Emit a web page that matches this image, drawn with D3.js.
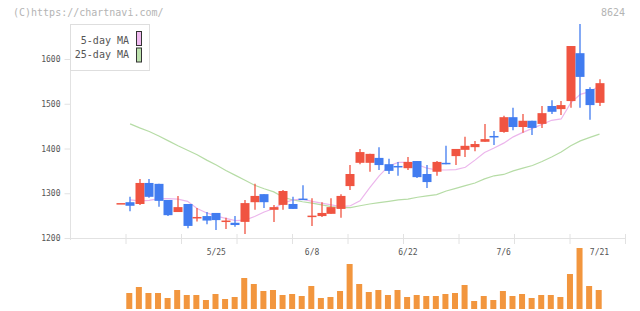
<!DOCTYPE html>
<html>
<head>
<meta charset="UTF-8">
<script src="https://cdn.jsdelivr.net/npm/d3@7"></script>
<style>
  body { margin: 0; background: #fff; }
  svg { display: block; }
  text { font-family: "DejaVu Sans Mono", monospace; }
</style>
</head>
<body>
<svg id="chart" width="640" height="311"></svg>
<script>
// daily OHLC (index 0 = first day shown)
var open  = [1278,1280,1276,1323,1321,1285,1258,1276,1246,1249,1256,1238,1234,1236,1280,1298,1263,1274,1276,1288,
             1249,1249,1254,1265,1316,1368,1368,1379,1365,1361,1356,1372,1343,1348,1368,1383,1397,1403,1415,1428,
             1437,1470,1448,1462,1455,1495,1488,1506,1613,1533,1502];
var high  = [1278,1292,1332,1332,1321,1285,1294,1276,1267,1258,1256,1245,1249,1285,1321,1298,1274,1307,1292,1318,
             1289,1280,1289,1298,1363,1399,1388,1403,1377,1370,1381,1372,1363,1372,1406,1399,1426,1417,1455,1439,
             1473,1491,1477,1462,1495,1508,1506,1629,1678,1537,1555];
var low   = [1278,1260,1274,1290,1270,1249,1258,1222,1237,1231,1218,1220,1225,1209,1263,1267,1236,1263,1265,1285,
             1227,1247,1254,1245,1307,1365,1348,1352,1343,1339,1352,1334,1312,1339,1365,1363,1381,1394,1415,1408,
             1435,1441,1435,1430,1446,1477,1475,1491,1491,1464,1495];
var close = [1278,1272,1323,1292,1283,1251,1269,1227,1247,1239,1240,1239,1229,1278,1294,1280,1269,1305,1265,1287,
             1250,1256,1269,1294,1343,1392,1388,1363,1350,1360,1370,1336,1325,1370,1366,1399,1406,1410,1421,1427,
             1470,1448,1462,1446,1479,1482,1497,1629,1560,1497,1546];

// moving averages as drawn (null where no line)
var ma5  = [null,1285,1283,1284,1288,1288,1287,1282,1266,1256,1249,1244,1239,1240,1248,1258,1266,1278,1285,1287,
            1282,1278,1274,1270,1272,1283,1312,1339,1361,1369,1369,1364,1356,1352,1352,1353,1358,1374,1391,1401,
            1412,1426,1436,1445,1454,1463,1466,1502,1521,1527,1540];
var ma25 = [null,1455,1446,1438,1428,1417,1406,1396,1386,1374,1363,1351,1340,1329,1318,1310,1303,1291,1285,1281,
            1278,1274,1270,1268,1268,1272,1276,1279,1282,1285,1287,1291,1294,1297,1305,1311,1317,1323,1332,1339,
            1342,1350,1356,1362,1371,1381,1392,1406,1417,1425,1432];

// volume (relative units), first day has none
var volume = [0,16,22,16,16,11,19,14,14,9,15,10,12,31,25,18,19,14,15,13,
              23,11,12,18,45,25,17,19,14,19,12,14,13,13,15,16,24,8,13,9,
              18,13,15,11,14,14,12,35,61,23,19];

var tickDays   = [10,20,30,40,50];
var tickLabels = ["5/25","6/8","6/22","7/6","7/21"];
var priceTicks = [1200,1300,1400,1500,1600];

var svg = d3.select("#chart");
var up = "#f05441", down = "#417cf0";

var x = d3.scaleLinear().domain([0, 50]).range([120.5, 599.5]);
var y = d3.scaleLinear().domain([1200, 1600]).range([238, 59]);
var yv = d3.scaleLinear().domain([0, 61]).range([309, 248]);

// header
svg.append("text").attr("x", 13).attr("y", 16).attr("font-size", 10).attr("fill", "#b4b4b4")
  .text("(C)https://chartnavi.com/");
svg.append("text").attr("x", 625).attr("y", 16).attr("font-size", 10).attr("fill", "#b4b4b4")
  .attr("text-anchor", "end").text("8624");

// frame lines
svg.append("line").attr("x1", 70.5).attr("x2", 70.5).attr("y1", 24).attr("y2", 240)
  .attr("stroke", "#e2e2e2");
svg.append("line").attr("x1", 70).attr("x2", 626).attr("y1", 238.5).attr("y2", 238.5)
  .attr("stroke", "#e2e2e2");
svg.selectAll(".vgrid").data(d3.range(1, 11)).enter().append("line")
  .attr("x1", function(k){ return 70.5 + k * 55.5; })
  .attr("x2", function(k){ return 70.5 + k * 55.5; })
  .attr("y1", 234).attr("y2", 244).attr("stroke", "#e2e2e2");

// y axis
var yAxis = svg.append("g").attr("transform", "translate(70.5,0)")
  .call(d3.axisLeft(y).tickValues(priceTicks).tickSize(6).tickPadding(4).tickFormat(d3.format("d")));
yAxis.select(".domain").remove();
yAxis.selectAll("line").attr("stroke", "#e2e2e2");
yAxis.selectAll("text").attr("font-size", 8).attr("fill", "#555")
  .attr("font-family", "DejaVu Sans Mono, monospace");

// date labels
svg.selectAll(".xlab").data(tickDays).enter().append("text")
  .attr("x", function(d){ return x(d); }).attr("y", 255)
  .attr("text-anchor", "middle").attr("font-size", 8).attr("fill", "#555")
  .text(function(d, i){ return tickLabels[i]; });

// moving averages
var line = function(arr){
  return d3.line().defined(function(d){ return d != null; })
    .x(function(d, i){ return x(i); }).y(function(d){ return y(d); })(arr);
};
svg.append("path").attr("d", line(ma25)).attr("fill", "none").attr("stroke", "#b6dca6").attr("stroke-width", 1.2);
svg.append("path").attr("d", line(ma5)).attr("fill", "none").attr("stroke", "#ecb6ec").attr("stroke-width", 1.2);

// candles
var idx = d3.range(open.length);
var col = function(i){ return close[i] >= open[i] ? up : down; };
svg.selectAll(".wick").data(idx).enter().append("line")
  .attr("x1", function(i){ return Math.round(x(i)) - 0.5 + 0.5; })
  .attr("x2", function(i){ return Math.round(x(i)) - 0.5 + 0.5; })
  .attr("y1", function(i){ return y(high[i]); })
  .attr("y2", function(i){ return y(low[i]); })
  .attr("stroke", col).attr("stroke-width", 1.3);
svg.selectAll(".body").data(idx).enter().append("rect")
  .attr("x", function(i){ return Math.round(x(i)) - 4.5; })
  .attr("width", 9)
  .attr("y", function(i){ return y(Math.max(open[i], close[i])); })
  .attr("height", function(i){ return Math.max(1.5, Math.abs(y(open[i]) - y(close[i]))); })
  .attr("fill", col);

// volume
svg.selectAll(".vol").data(idx.filter(function(i){ return volume[i] > 0; })).enter().append("rect")
  .attr("x", function(i){ return x(i) - 3.8; })
  .attr("width", 6)
  .attr("y", function(i){ return yv(volume[i]); })
  .attr("height", function(i){ return yv(0) - yv(volume[i]); })
  .attr("fill", "#f2963e");

// legend
var lg = svg.append("g");
lg.append("rect").attr("x", 70.5).attr("y", 24.5).attr("width", 79).attr("height", 46)
  .attr("fill", "#fff").attr("stroke", "#dedede");
var legendItems = [["5-day MA", "#f0baf0"], ["25-day MA", "#bde2ae"]];
legendItems.forEach(function(it, k){
  lg.append("text").attr("x", 129).attr("y", 43.5 + k * 14).attr("text-anchor", "end")
    .attr("font-size", 10).attr("fill", "#555").text(it[0]);
  lg.append("rect").attr("x", 136.5).attr("y", 31.5 + k * 16.5).attr("width", 5).attr("height", 14)
    .attr("fill", it[1]).attr("stroke", "#333").attr("stroke-width", 1);
});
</script>
</body>
</html>
